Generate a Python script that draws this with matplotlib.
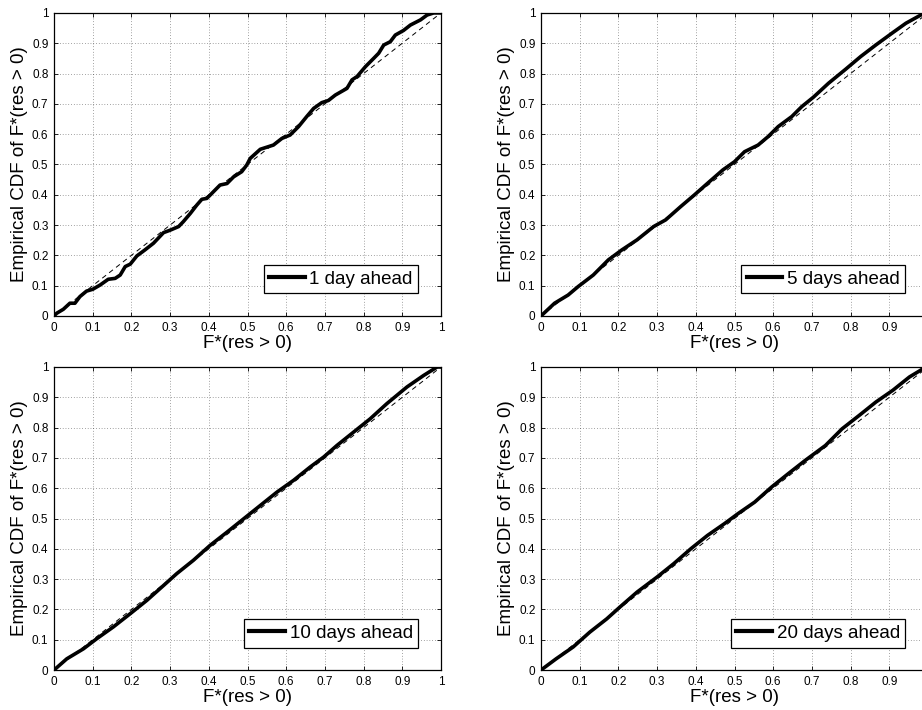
import matplotlib
matplotlib.use('Agg')
import matplotlib.pyplot as plt

plt.rcParams['font.family'] = ['Liberation Sans', 'DejaVu Sans']

# curves: F* value vs empirical CDF
x_1day = [0, 0.007, 0.024, 0.041, 0.054, 0.067, 0.084, 0.10, 0.119, 0.14, 0.158, 0.171,
          0.184, 0.197, 0.214, 0.235, 0.257, 0.283, 0.30, 0.322, 0.334, 0.352, 0.369,
          0.382, 0.395, 0.412, 0.429, 0.447, 0.464, 0.485, 0.498, 0.507, 0.533, 0.567,
          0.589, 0.61, 0.632, 0.653, 0.671, 0.692, 0.709, 0.727, 0.757, 0.77, 0.783,
          0.805, 0.826, 0.839, 0.852, 0.869, 0.882, 0.903, 0.921, 0.947, 0.964, 0.981, 1.0]
y_1day = [0, 0.009, 0.022, 0.042, 0.042, 0.064, 0.082, 0.088, 0.102, 0.121, 0.124, 0.135,
          0.163, 0.171, 0.198, 0.218, 0.24, 0.275, 0.283, 0.295, 0.311, 0.338, 0.366,
          0.385, 0.388, 0.41, 0.432, 0.437, 0.459, 0.476, 0.498, 0.52, 0.55, 0.564,
          0.586, 0.597, 0.625, 0.658, 0.685, 0.704, 0.711, 0.729, 0.751, 0.779, 0.79,
          0.823, 0.85, 0.867, 0.894, 0.905, 0.927, 0.942, 0.96, 0.977, 0.993, 1.0, 1.0]

x_5day = [0, 0.035, 0.07, 0.096, 0.135, 0.174, 0.209, 0.248, 0.291, 0.322, 0.361, 0.396,
          0.435, 0.47, 0.5, 0.526, 0.561, 0.587, 0.613, 0.648, 0.674, 0.704, 0.743,
          0.787, 0.826, 0.865, 0.909, 0.943, 0.987, 1.0]
y_5day = [0, 0.042, 0.069, 0.097, 0.135, 0.185, 0.218, 0.251, 0.295, 0.317, 0.361, 0.399,
          0.443, 0.482, 0.509, 0.542, 0.564, 0.592, 0.625, 0.658, 0.691, 0.722, 0.768,
          0.814, 0.856, 0.894, 0.935, 0.966, 0.997, 1.0]

x_10day = [0, 0.033, 0.076, 0.11, 0.153, 0.197, 0.24, 0.283, 0.317, 0.36, 0.403, 0.447,
           0.49, 0.533, 0.576, 0.619, 0.662, 0.697, 0.731, 0.774, 0.817, 0.86, 0.912,
           0.955, 0.99, 1.0]
y_10day = [0, 0.037, 0.07, 0.103, 0.142, 0.186, 0.23, 0.279, 0.318, 0.362, 0.411, 0.455,
           0.499, 0.543, 0.587, 0.626, 0.67, 0.703, 0.741, 0.785, 0.829, 0.879, 0.934,
           0.972, 1.0, 1.0]

x_20day = [0, 0.039, 0.083, 0.126, 0.17, 0.204, 0.248, 0.3, 0.343, 0.387, 0.43, 0.474,
           0.509, 0.552, 0.596, 0.639, 0.683, 0.735, 0.778, 0.822, 0.865, 0.909, 0.952,
           0.987, 1.0]
y_20day = [0, 0.037, 0.076, 0.125, 0.169, 0.208, 0.257, 0.307, 0.351, 0.4, 0.444, 0.483,
           0.516, 0.554, 0.604, 0.648, 0.692, 0.741, 0.796, 0.84, 0.884, 0.923, 0.967,
           0.994, 1.0]

curves = [(x_1day, y_1day, '1 day ahead'),
          (x_5day, y_5day, '5 days ahead'),
          (x_10day, y_10day, '10 days ahead'),
          (x_20day, y_20day, '20 days ahead')]

ticks = [i / 10 for i in range(11)]
tick_labels = ['0', '0.1', '0.2', '0.3', '0.4', '0.5', '0.6', '0.7', '0.8', '0.9', '1']

# axes boxes in figure fractions (right column runs off the page like the original)
boxes = [[0.0586, 0.555, 0.4197, 0.4268],
         [0.5868, 0.555, 0.4197, 0.4268],
         [0.0586, 0.0563, 0.4197, 0.4268],
         [0.5868, 0.0563, 0.4197, 0.4268]]

fig = plt.figure(figsize=(9.22, 7.10), dpi=100)

for i, ((xs, ys, lab), box) in enumerate(zip(curves, boxes)):
    ax = fig.add_axes(box)
    ax.plot([0, 1], [0, 1], 'k--', lw=0.7, dashes=(5, 4))
    ax.plot(xs, ys, 'k-', lw=2.6, label=lab, solid_joinstyle='round')
    ax.set_xlim(0, 1)
    ax.set_ylim(0, 1)
    ax.set_xticks(ticks)
    ax.set_yticks(ticks)
    xl = list(tick_labels)
    if i % 2 == 1:
        xl[-1] = ''  # last label falls off the page on the right
    ax.set_xticklabels(xl)
    ax.set_yticklabels(tick_labels)
    ax.tick_params(direction='in', length=3, width=0.6, labelsize=8.5, pad=4,
                   top=True, right=True)
    ax.grid(True, linestyle=(0, (1, 3)), color='k', lw=0.5, alpha=0.7)
    for s in ax.spines.values():
        s.set_linewidth(0.9)
    ax.set_xlabel('F*(res > 0)', fontsize=13.5, labelpad=1)
    ax.set_ylabel('Empirical CDF of F*(res > 0)', fontsize=13.5, labelpad=3)
    leg = ax.legend(loc='lower right', fontsize=13.5, fancybox=False, framealpha=1,
                    edgecolor='k', handlelength=1.9, handletextpad=0.25,
                    borderpad=0.3, borderaxespad=1.2)
    leg.get_frame().set_linewidth(0.9)
    leg.get_lines()[0].set_linewidth(3)

fig.savefig('out.png', dpi=100)
